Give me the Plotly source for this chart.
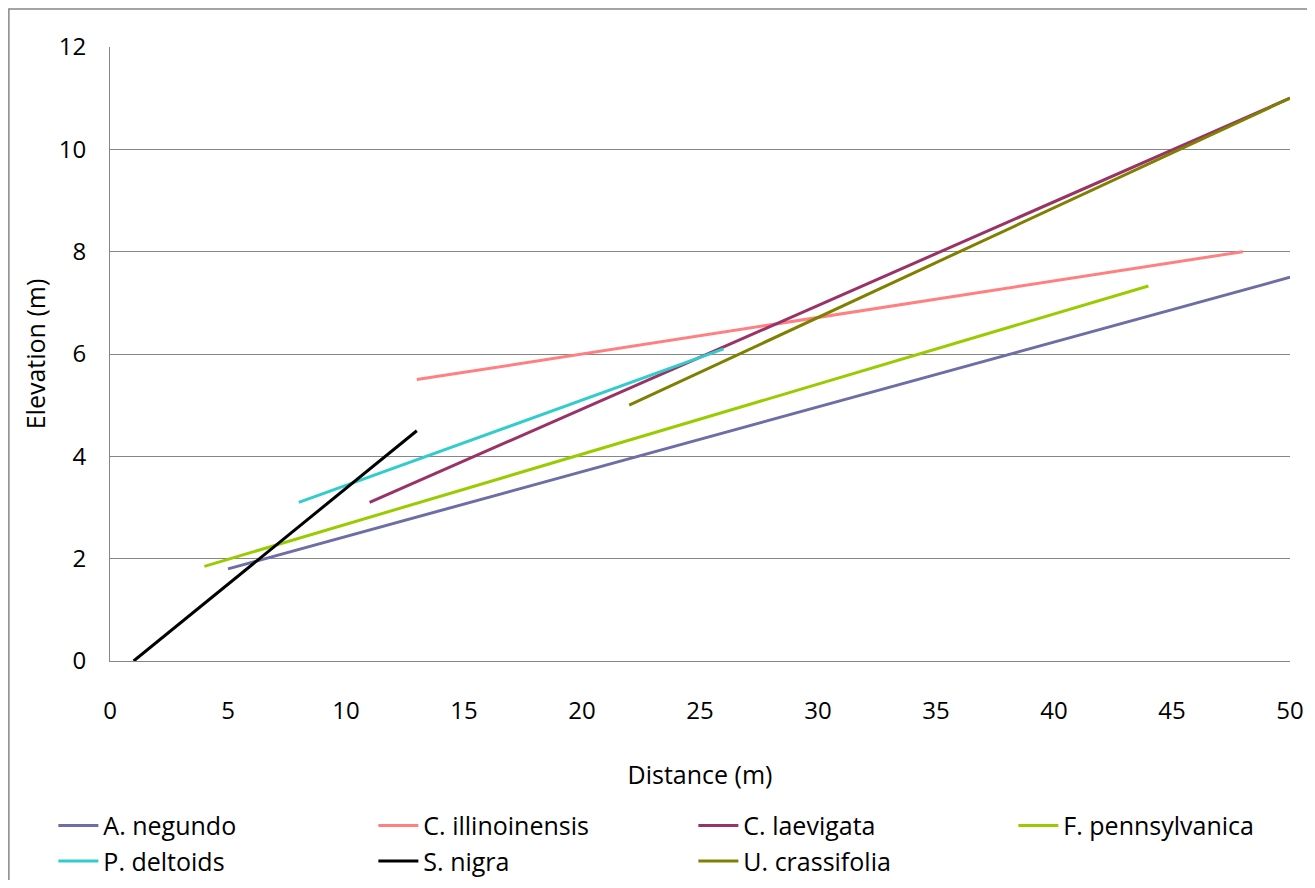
import plotly.graph_objects as go

species = ["A. negundo", "C. illinoinensis", "C. laevigata", "F. pennsylvanica",
           "P. deltoids", "S. nigra", "U. crassifolia"]
x_start = [5, 13, 11, 4, 8, 1, 22]
x_end = [50, 48, 50, 44, 26, 13, 50]
y_start = [1.8, 5.5, 3.1, 1.85, 3.1, 0.0, 5.0]
y_end = [7.5, 8.0, 11.0, 7.33, 6.1, 4.5, 11.0]
colors = ["#6E6EA6", "#FF8080", "#993366", "#99CC00", "#33CCCC", "#000000", "#808000"]

x_ticks = [0, 5, 10, 15, 20, 25, 30, 35, 40, 45, 50]
y_ticks = [0, 2, 4, 6, 8, 10, 12]

FONT = "'Open Sans', sans-serif"
FS = 24
FT = 25

fig = go.Figure()
for name, xs, xe, ys, ye, c in zip(species, x_start, x_end, y_start, y_end, colors):
    fig.add_trace(go.Scatter(x=[xs, xe], y=[ys, ye], mode="lines", name=name,
                             line=dict(color=c, width=3)))

fig.update_layout(
    width=1299, height=872,
    margin=dict(l=102, r=17, t=39, b=219, autoexpand=False),
    paper_bgcolor="white", plot_bgcolor="white",
    font=dict(family=FONT, size=FS, color="black"),
    showlegend=True,
    legend=dict(orientation="h", x=-0.048, xanchor="left", y=-0.231, yanchor="top",
                entrywidth=265, entrywidthmode="pixels",
                font=dict(size=FT), tracegroupgap=0, itemwidth=40),
    xaxis=dict(range=[0, 50], tickvals=x_ticks, showgrid=False, zeroline=False,
               showline=True, linecolor="#868686", linewidth=1, automargin=False,
               ticks="", ticklabelstandoff=28,
               title=dict(text="Distance (m)", font=dict(size=FT), standoff=41)),
    yaxis=dict(range=[0, 12], tickvals=y_ticks, showgrid=True, gridcolor="#868686",
               gridwidth=1, zeroline=False, showline=True, linecolor="#868686",
               linewidth=1, ticks="", ticklabelstandoff=18, automargin=False,
               title=dict(text="Elevation (m)", font=dict(size=FT), standoff=5)),
    shapes=[dict(type="rect", xref="paper", yref="paper", x0=-0.0857, x1=1.2,
                 y0=-0.6, y1=1.062, line=dict(color="#868686", width=1.5),
                 fillcolor="rgba(0,0,0,0)", layer="below")],
)

fig.write_html("out.html")
